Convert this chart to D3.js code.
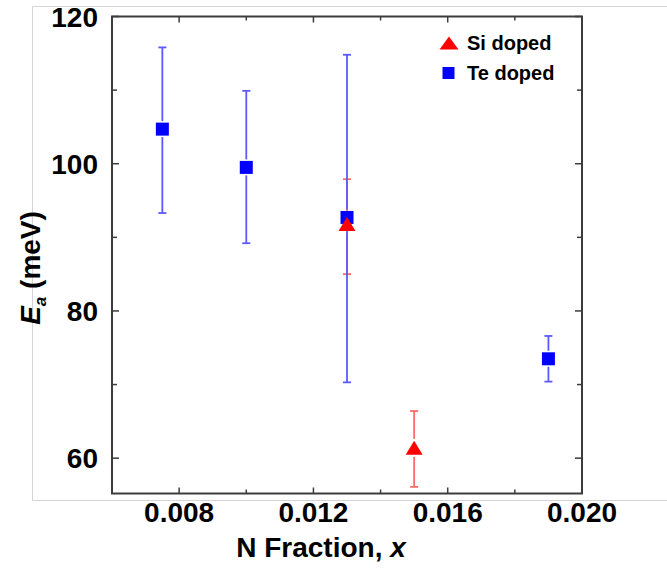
<!DOCTYPE html>
<html>
<head>
<meta charset="utf-8">
<script src="https://cdn.jsdelivr.net/npm/d3@7"></script>
<style>
  html, body { margin: 0; padding: 0; background: #fff; }
  svg { display: block; font-family: "Liberation Sans", Arial, sans-serif; }
</style>
</head>
<body>
<svg id="chart" width="667" height="569"></svg>
<script>
// Te doped samples (blue squares)
const teX = [0.0075, 0.010, 0.013, 0.019];
const teY = [104.7, 99.5, 92.7, 73.5];
const teLow = [93.3, 89.2, 70.3, 70.4];
const teHigh = [115.8, 109.9, 114.8, 76.6];

// Si doped samples (red triangles)
const siX = [0.013, 0.015];
const siY = [91.8, 61.4];
const siLow = [85.0, 56.1];
const siHigh = [97.9, 66.4];

const xTicks = [0.008, 0.012, 0.016, 0.020];
const xMinorTicks = [0.006, 0.008, 0.010, 0.012, 0.014, 0.016, 0.018, 0.020];
const yTicks = [60, 80, 100, 120];
const yMinorTicks = [60, 70, 80, 90, 100, 110, 120];

const legendLabels = ['Si doped', 'Te doped'];

const AXIS_COLOR = '#3c3c3c';
const TE_COLOR = '#0000ff';
const TE_BAR_COLOR = '#5a5aff';
const SI_COLOR = '#ff0000';
const SI_BAR_COLOR = '#ff6a6a';

const svg = d3.select('#chart');

const plot = { left: 112, right: 582, top: 16.5, bottom: 493.5 };

const x = d3.scaleLinear().domain([0.006, 0.020]).range([plot.left, plot.right]);
const y = d3.scaleLinear().domain([55.2, 120]).range([plot.bottom, plot.top]);

// light grey figure border
svg.append('path')
  .attr('d', `M667,6.5 H32.5 V500.5 H667`)
  .attr('fill', 'none')
  .attr('stroke', '#d4d4d4')
  .attr('stroke-width', 1);

// inward ticks on all four sides
const tickGroup = svg.append('g').attr('stroke', AXIS_COLOR).attr('stroke-width', 1.5);
xMinorTicks.forEach(t => {
  const len = xTicks.includes(t) ? 6 : 4;
  tickGroup.append('line').attr('x1', x(t)).attr('x2', x(t)).attr('y1', plot.bottom).attr('y2', plot.bottom - len);
  tickGroup.append('line').attr('x1', x(t)).attr('x2', x(t)).attr('y1', plot.top).attr('y2', plot.top + len);
});
yMinorTicks.forEach(t => {
  const len = yTicks.includes(t) ? 7 : 5;
  tickGroup.append('line').attr('y1', y(t)).attr('y2', y(t)).attr('x1', plot.left).attr('x2', plot.left + len);
  tickGroup.append('line').attr('y1', y(t)).attr('y2', y(t)).attr('x1', plot.right).attr('x2', plot.right - len);
});

// frame
svg.append('rect')
  .attr('x', plot.left).attr('y', plot.top)
  .attr('width', plot.right - plot.left).attr('height', plot.bottom - plot.top)
  .attr('fill', 'none')
  .attr('stroke', AXIS_COLOR)
  .attr('stroke-width', 2);

// tick labels
svg.append('g')
  .selectAll('text')
  .data(xTicks)
  .join('text')
  .attr('x', d => x(d))
  .attr('y', 522)
  .attr('text-anchor', 'middle')
  .attr('font-size', 28)
  .attr('font-weight', 'bold')
  .text(d => d3.format('.3f')(d));

svg.append('g')
  .selectAll('text')
  .data(yTicks)
  .join('text')
  .attr('x', 98)
  .attr('y', d => y(d))
  .attr('dy', '0.36em')
  .attr('text-anchor', 'end')
  .attr('font-size', 28)
  .attr('font-weight', 'bold')
  .text(d => d);

// axis titles
const xTitle = svg.append('text')
  .attr('x', 321)
  .attr('y', 557)
  .attr('text-anchor', 'middle')
  .attr('font-size', 28)
  .attr('font-weight', 'bold');
xTitle.append('tspan').text('N Fraction, ');
xTitle.append('tspan').attr('font-style', 'italic').text('x');

const yTitle = svg.append('text')
  .attr('transform', 'translate(40,268) rotate(-90)')
  .attr('text-anchor', 'middle')
  .attr('font-size', 28)
  .attr('font-weight', 'bold');
yTitle.append('tspan').attr('font-style', 'italic').text('E');
yTitle.append('tspan').attr('font-style', 'italic').attr('font-size', 17).attr('dy', 6).text('a');
yTitle.append('tspan').attr('dy', -6).text(' (meV)');

/**
 * Draws vertical error bars with caps, leaving a small gap around the marker
 */
function drawErrorBars(xs, ys, lows, highs, color, gap) {
  const g = svg.append('g').attr('stroke', color).attr('stroke-width', 1.8).attr('fill', 'none');
  xs.forEach((xv, i) => {
    const cx = x(xv);
    const cy = y(ys[i]);
    const yl = y(lows[i]);
    const yh = y(highs[i]);
    g.append('line').attr('x1', cx).attr('x2', cx).attr('y1', yh).attr('y2', cy - gap);
    g.append('line').attr('x1', cx).attr('x2', cx).attr('y1', cy + gap).attr('y2', yl);
    g.append('line').attr('x1', cx - 4).attr('x2', cx + 4).attr('y1', yh).attr('y2', yh);
    g.append('line').attr('x1', cx - 4).attr('x2', cx + 4).attr('y1', yl).attr('y2', yl);
  });
}

const trianglePath = (cx, cy, w, h) =>
  `M${cx},${cy - h / 2} L${cx + w / 2},${cy + h / 2} L${cx - w / 2},${cy + h / 2} Z`;

drawErrorBars(siX, siY, siLow, siHigh, SI_BAR_COLOR, 9);
drawErrorBars(teX, teY, teLow, teHigh, TE_BAR_COLOR, 8);

// Te squares
svg.append('g')
  .selectAll('rect')
  .data(teX.map((d, i) => ({ x: d, y: teY[i] })))
  .join('rect')
  .attr('x', d => x(d.x) - 6.5)
  .attr('y', d => y(d.y) - 6.5)
  .attr('width', 13)
  .attr('height', 13)
  .attr('fill', TE_COLOR);

// Si triangles
svg.append('g')
  .selectAll('path')
  .data(siX.map((d, i) => ({ x: d, y: siY[i] })))
  .join('path')
  .attr('d', d => trianglePath(x(d.x), y(d.y), 17, 14))
  .attr('fill', SI_COLOR);

// legend
svg.append('path')
  .attr('d', trianglePath(449, 43, 19, 13))
  .attr('fill', SI_COLOR);
svg.append('rect')
  .attr('x', 442.5).attr('y', 67)
  .attr('width', 12).attr('height', 12)
  .attr('fill', TE_COLOR);
svg.append('g')
  .selectAll('text')
  .data(legendLabels)
  .join('text')
  .attr('x', 467)
  .attr('y', (d, i) => 43 + i * 30)
  .attr('dy', '0.36em')
  .attr('font-size', 20)
  .attr('font-weight', 'bold')
  .text(d => d);
</script>
</body>
</html>
